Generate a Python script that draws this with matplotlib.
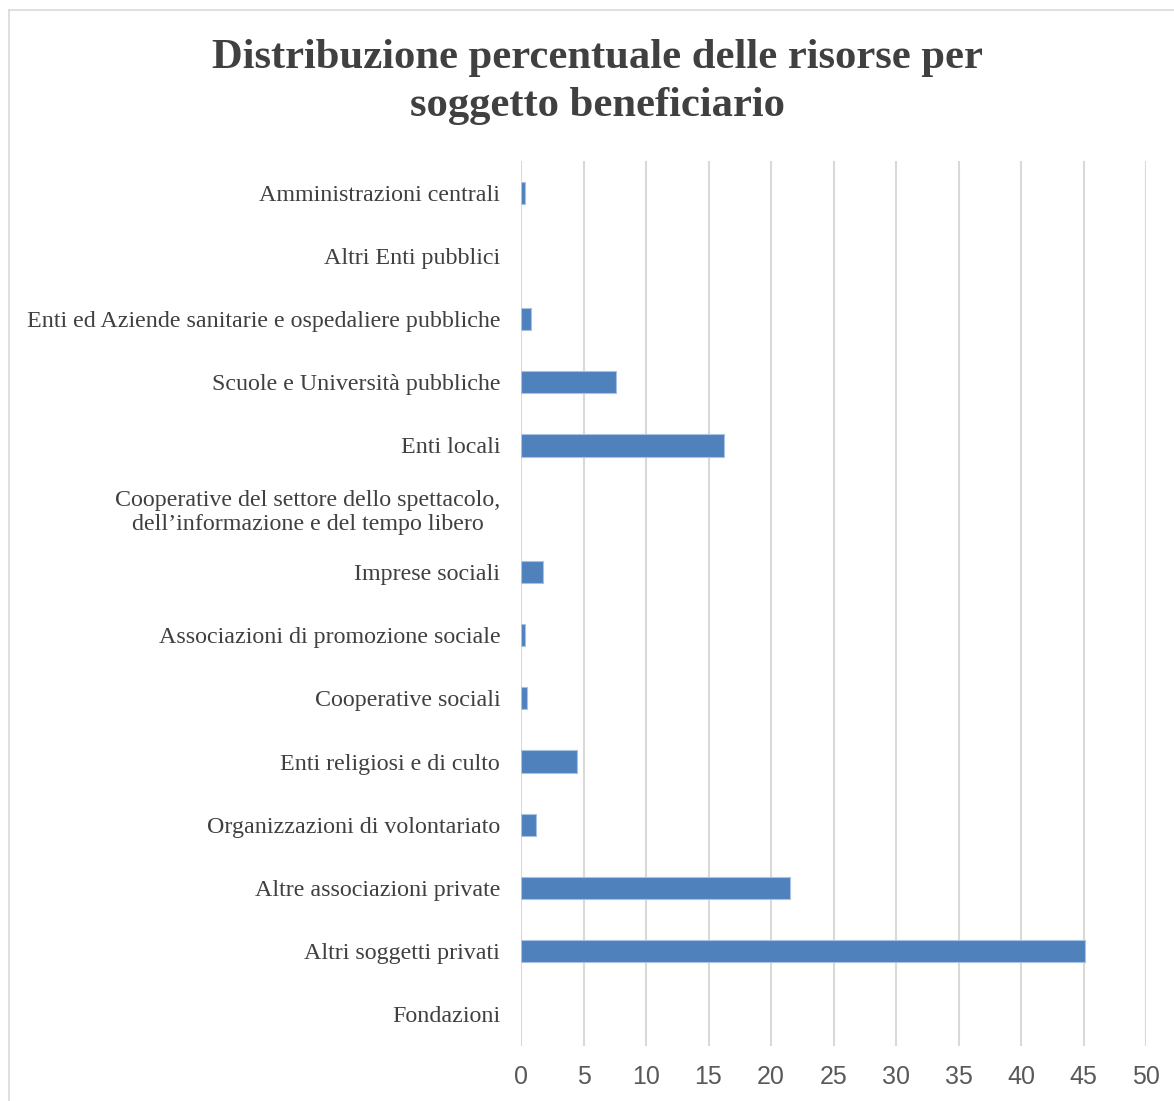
import matplotlib
matplotlib.use('Agg')
import matplotlib.pyplot as plt
from matplotlib.lines import Line2D
from matplotlib import font_manager

# Categories top to bottom as shown in the chart
categories = [
    'Amministrazioni centrali',
    'Altri Enti pubblici',
    'Enti ed Aziende sanitarie e ospedaliere pubbliche',
    'Scuole e Università pubbliche',
    'Enti locali',
    'Cooperative del settore dello spettacolo,\ndell\u2019informazione e del tempo libero',
    'Imprese sociali',
    'Associazioni di promozione sociale',
    'Cooperative sociali',
    'Enti religiosi e di culto',
    'Organizzazioni di volontariato',
    'Altre associazioni private',
    'Altri soggetti privati',
    'Fondazioni',
]
values = [0.35, 0.0, 0.77, 7.6, 16.2, 0.0, 1.73, 0.35, 0.45, 4.5, 1.2, 21.5, 45.1, 0.0]
x_ticks = [0, 5, 10, 15, 20, 25, 30, 35, 40, 45, 50]

W, H = 1174, 1101
fig = plt.figure(figsize=(W / 100, H / 100), dpi=100)
ax = fig.add_axes([521 / W, 1 - 1046 / H, (1146 - 521) / W, (1046 - 161) / H])

serif = ['Liberation Serif', 'DejaVu Serif']
installed = {f.name for f in font_manager.fontManager.ttflist}
tick_font = 'Liberation Sans Narrow' if 'Liberation Sans Narrow' in installed else 'Liberation Sans'

ypos = list(range(len(categories)))
edges = ['#a9c2e3' if v > 0 else 'none' for v in values]
ax.barh(ypos, values, height=0.35, color='#4f81bd', edgecolor=edges,
        linewidth=0.8, zorder=3)

ax.set_ylim(len(categories) - 0.5, -0.5)
ax.set_xlim(0, 50)
ax.set_xticks(x_ticks)
ax.set_xticklabels([str(t) for t in x_ticks], family=tick_font, fontsize=18,
                   color='#595959')
ax.set_yticks(ypos)
ax.set_yticklabels(categories, family=serif, fontsize=17.3, color='#404040',
                   multialignment='center')
ax.tick_params(axis='both', length=0)
ax.tick_params(axis='y', pad=15)
ax.tick_params(axis='x', pad=14)

ax.xaxis.grid(True, color='#d9d9d9', linewidth=1.5, zorder=0)
ax.yaxis.grid(False)
for s in ax.spines.values():
    s.set_visible(False)

fig.text(597 / W, 1 - 58 / H, 'Distribuzione percentuale delle risorse per',
         ha='center', va='center', family=serif, fontsize=30.7, weight='bold',
         color='#404040')
fig.text(597 / W, 1 - 106 / H, 'soggetto beneficiario',
         ha='center', va='center', family=serif, fontsize=30.7, weight='bold',
         color='#404040')

# chart area border (left and top visible)
fig.add_artist(Line2D([9 / W, 9 / W], [0, 1 - 10 / H], color='#d9d9d9',
                      linewidth=1.2, transform=fig.transFigure))
fig.add_artist(Line2D([9 / W, 1], [1 - 10 / H, 1 - 10 / H], color='#d9d9d9',
                      linewidth=1.2, transform=fig.transFigure))

fig.savefig('out.png', dpi=100, facecolor='white')
